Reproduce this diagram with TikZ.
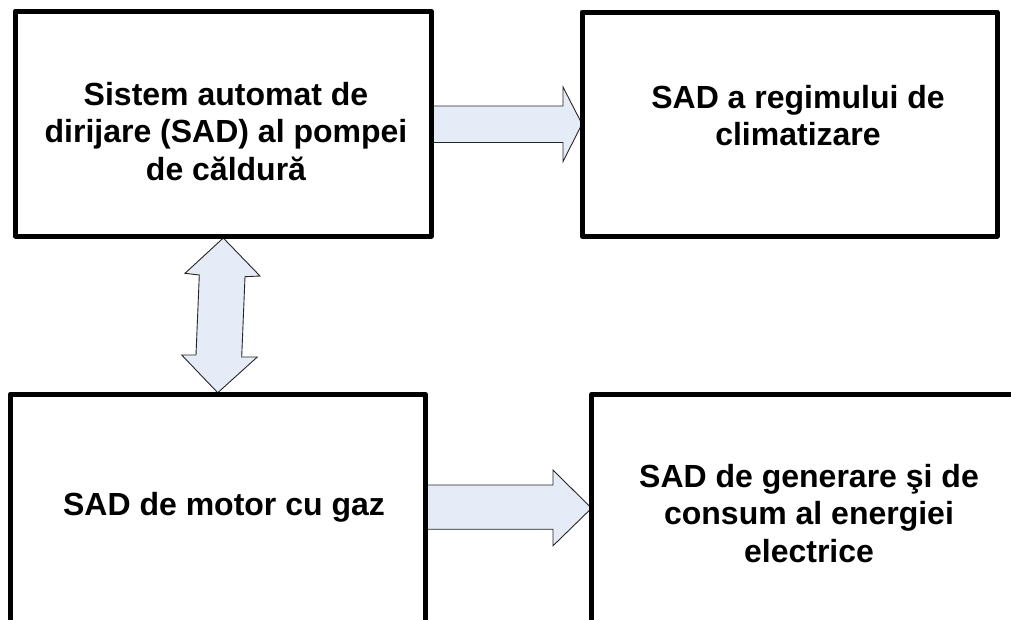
\documentclass[tikz,border=0pt]{standalone}
\usepackage{fontspec}
\setmainfont{Liberation Sans}
\definecolor{arrowfill}{RGB}{230,236,247}
\begin{document}
\begin{tikzpicture}[x=1pt,y=-1pt,
  box/.style={draw=black,line width=5pt,line join=round,rectangle,inner sep=0pt,outer sep=0pt},
  blockarrow/.style={draw=black!85,line width=0.9pt,fill=arrowfill,line join=miter},
  label/.style={font=\bfseries\fontsize{32}{37.5}\selectfont,align=center,anchor=base,inner sep=0pt}]
\path[use as bounding box,clip] (0,0) rectangle (1011,619);
\fill[white] (0,0) rectangle (1011,619);
% boxes (positions)
\path (223.25,123.5) node[minimum width=415.5pt,minimum height=225pt,inner sep=0pt,outer sep=0pt] (A) {};
\path (789.5,124) node[minimum width=415pt,minimum height=224pt,inner sep=0pt,outer sep=0pt] (B) {};
\path (217.75,508) node[minimum width=414.5pt,minimum height=228pt,inner sep=0pt,outer sep=0pt] (C) {};
\path (802.75,508.25) node[minimum width=422.5pt,minimum height=227.5pt,inner sep=0pt,outer sep=0pt] (D) {};
% block arrows
\draw[blockarrow] (A.east) ++(0,-17.5) -- ++(132,0) -- ++(0,-19) -- (B.west) -- ++(-19,37.5) -- ++(0,-19) -- ++(-132,0) -- cycle;
\draw[blockarrow] (C.east) ++(0,-23) -- ++(128,0) -- ++(0,-15) -- (D.west) -- ++(-38.5,37.5) -- ++(0,-16.5) -- ++(-128,0) -- cycle;
\draw[blockarrow] ([yshift=-2pt]A.south) -- (260,276) -- (245,276.7) -- (241.7,357) -- (257.3,357) -- ([yshift=1.3pt]C.north) -- (181.7,355) -- (196,355) -- (199.3,275) -- (185,273.3) -- cycle;
% box outlines on top
\foreach \n in {A,B,C,D} \draw[box] (\n.north west) rectangle (\n.south east);
% texts (anchor base = baseline of the last line)
\node[label] (tA) at (226,180) {Sistem automat de\\dirijare (SAD) al pompei\\de căldură};
\node[label] (tB) at (798,145.5) {SAD a regimului de\\climatizare};
\node[label] (tC) at (224,515) {SAD de motor cu gaz};
\node[label] (tD) at (809,562) {SAD de generare şi de\\consum al energiei\\electrice};
\end{tikzpicture}
\end{document}
